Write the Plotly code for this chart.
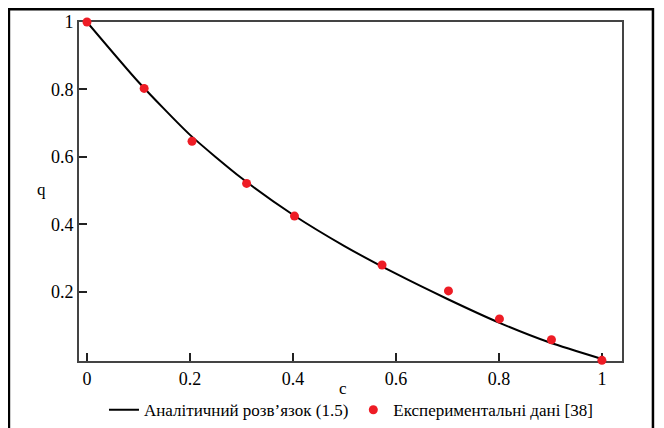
import plotly.graph_objects as go

# Analytical curve
curve_c = [0.0, 0.1, 0.2, 0.3, 0.4, 0.5, 0.6, 0.7, 0.8, 0.9, 1.0]
curve_q = [1.0, 0.822, 0.665, 0.537, 0.428, 0.335, 0.253, 0.178, 0.108, 0.048, 0.0]

# Experimental data
exp_c = [0.0, 0.111, 0.204, 0.310, 0.403, 0.573, 0.702, 0.801, 0.902, 1.0]
exp_q = [1.0, 0.803, 0.646, 0.521, 0.424, 0.279, 0.202, 0.119, 0.057, -0.004]

x_ticks = [0, 0.2, 0.4, 0.6, 0.8, 1]
x_labels = ["0", "0.2", "0.4", "0.6", "0.8", "1"]
y_ticks = [0.2, 0.4, 0.6, 0.8, 1]
y_labels = ["0.2", "0.4", "0.6", "0.8", "1"]

FONT = "'Liberation Serif', 'Times New Roman', serif"

fig = go.Figure()
fig.add_trace(go.Scatter(
    x=curve_c, y=curve_q, mode="lines", line=dict(color="black", width=2, shape="spline", smoothing=0.6),
    name="Аналітичний розв’язок (1.5)"))
fig.add_trace(go.Scatter(
    x=exp_c, y=exp_q, mode="markers", marker=dict(color="#ee1c25", size=9),
    name="Експериментальні дані [38]", cliponaxis=False))

axis_common = dict(showgrid=False, zeroline=False, showline=True, linecolor="#444444", linewidth=2,
                   mirror=True, ticks="inside", ticklen=8, tickwidth=2, tickcolor="#222222",
                   tickfont=dict(family=FONT, size=18, color="black"), automargin=False,
                   layer="below traces")

fig.update_xaxes(range=[-0.0155, 1.039], tickvals=x_ticks, ticktext=x_labels, **axis_common)
fig.update_yaxes(range=[-0.006, 1.0], tickvals=y_ticks, ticktext=y_labels, **axis_common)

fig.update_layout(
    width=656, height=420,
    margin=dict(l=71, r=42, t=14, b=67, autoexpand=False),
    paper_bgcolor="white", plot_bgcolor="white",
    font=dict(family=FONT, size=17, color="black"),
    legend=dict(orientation="h", x=0.046, y=-0.145, xanchor="left", yanchor="middle",
                font=dict(family=FONT, size=17, color="black"), bgcolor="rgba(0,0,0,0)"),
    annotations=[
        dict(text="q", x=(34.7 - 79) / 543, y=(360.7 - 189) / 339, xref="paper", yref="paper",
             showarrow=False, font=dict(family=FONT, size=17)),
        dict(text="c", x=0.486, y=-0.115, xref="paper", yref="paper", showarrow=False,
             font=dict(family=FONT, size=17)),
    ],
    shapes=[
        dict(type="rect", xref="paper", yref="paper", x0=-0.129, x1=1.057, y0=-0.25, y1=1.0375,
             line=dict(color="black", width=2.5), layer="below"),
    ],
)

fig.write_html("out.html")
